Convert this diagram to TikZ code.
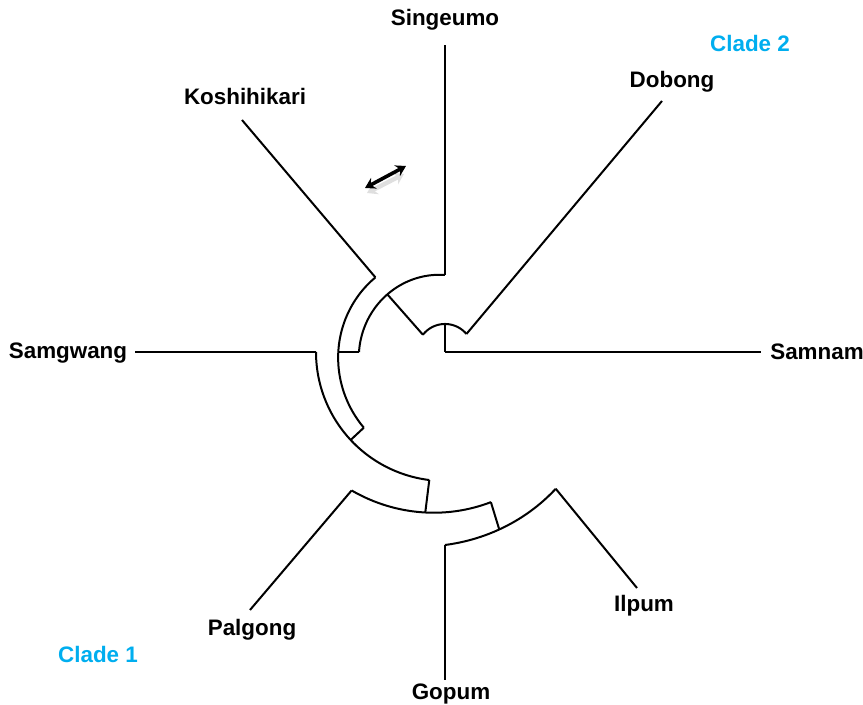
\documentclass[tikz,border=0pt]{standalone}
\usepackage{fontspec}
\setmainfont{Liberation Sans}
\usetikzlibrary{arrows.meta}
\definecolor{cladeblue}{RGB}{0,174,239}

\begin{document}
\begin{tikzpicture}[x=0.5pt, y=0.5pt, line width=1pt,
    taxon/.style={font=\fontsize{11.2}{13}\selectfont\bfseries},
    clade/.style={font=\fontsize{11.2}{13}\selectfont\bfseries, text=cladeblue}]

        \useasboundingbox (-445,-353) rectangle (418,352);

        % arcs of the inner nodes: radius at start/radius at end/from/to
        \foreach \ra/\rb/\a/\b in {28/28/40/142, 77/86/90/180, 102/111/133/223, 129/129/180/263, 167/157/236/287, 193/176/270/309} {
            \draw plot[domain=\a:\b, samples=60, smooth] (\x:{\ra+(\rb-\ra)*(\x-\a)/(\b-\a)});
        }

        % stems between inner nodes
        \draw (0,0) -- (90:28);
        \draw (142:28) -- (135:81.5);
        \draw (180:86) -- (180:106.7);
        \draw (223:111) -- (223:129);
        \draw (263:129) -- (263:161.7);
        \draw (287:157) -- (287:185.6);

        % tips
        \coordinate (samnam) at (316,0);
        \coordinate (dobong) at (217,251);
        \coordinate (singeumo) at (0,307);
        \coordinate (koshihikari) at (-203,232);
        \coordinate (samgwang) at (-310,0);
        \coordinate (palgong) at (-195,-258);
        \coordinate (gopum) at (0,-328);
        \coordinate (ilpum) at (192,-236);

        \draw (0,0) -- (samnam);
        \draw (40:28) -- (dobong);
        \draw (90:77) -- (singeumo);
        \draw (133:102) -- (koshihikari);
        \draw (180:129) -- (samgwang);
        \draw (236:167) -- (palgong);
        \draw (270:193) -- (gopum);
        \draw (309:176) -- (ilpum);

        \node[taxon] (samnam-lab) at (372,0) {Samnam};
        \node[taxon] (dobong-lab) at (227,270) {Dobong};
        \node[taxon] (singeumo-lab) at (0,332) {Singeumo};
        \node[taxon] (koshihikari-lab) at (-200,255) {Koshihikari};
        \node[taxon] (samgwang-lab) at (-377,-1) {Samgwang};
        \node[taxon] (palgong-lab) at (-193,-278) {Palgong};
        \node[taxon] (gopum-lab) at (6,-342) {Gopum};
        \node[taxon] (ilpum-lab) at (199,-254) {Ilpum};

        \node[clade] (clade2) at (305,308) {Clade 2};
        \node[clade] (clade1) at (-347,-303) {Clade 1};

        % rotate icon
        \draw[gray!25, line width=2.2pt, {Stealth[length=5pt, width=6.5pt]}-{Stealth[length=5pt, width=6.5pt]}] (-78,159) -- (-41,178);
        \draw[line width=1.8pt, {Stealth[length=5pt, width=6pt]}-{Stealth[length=5pt, width=6pt]}] (-80,164) -- (-39,186);

\end{tikzpicture}
\end{document}
